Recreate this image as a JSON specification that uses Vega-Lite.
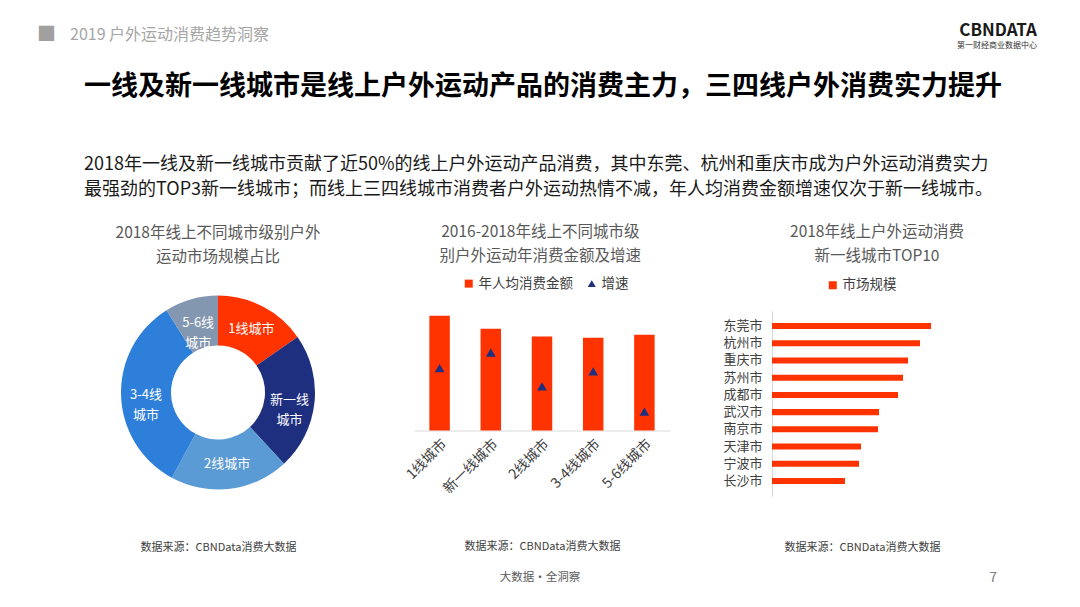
{
  "$schema": "https://vega.github.io/schema/vega-lite/v6.json",
  "background": "white",
  "padding": {"left": 37, "top": 20, "right": 5, "bottom": 5},
  "config": {
    "font": "Noto Sans CJK SC",
    "view": {"stroke": null},
    "axis": {"labelFont": "Noto Sans CJK SC", "titleFont": "Noto Sans CJK SC"},
    "legend": {"labelFont": "Noto Sans CJK SC", "titleFont": "Noto Sans CJK SC"},
    "title": {"font": "Noto Sans CJK SC", "subtitleFont": "Noto Sans CJK SC"},
    "text": {"font": "Noto Sans CJK SC"}
  },
  "datasets": {
    "tiers": [
      {"tier": "1线城市", "share": 15.3, "label": "1线城市"},
      {"tier": "新一线城市", "share": 22.8, "label": "新一线\n城市"},
      {"tier": "2线城市", "share": 19.8, "label": "2线城市"},
      {"tier": "3-4线城市", "share": 33.2, "label": "3-4线\n城市"},
      {"tier": "5-6线城市", "share": 8.9, "label": "5-6线\n城市"}
    ],
    "spend": [
      {"tier": "1线城市", "spend": 1147, "growth": 20.8},
      {"tier": "新一线城市", "spend": 1017, "growth": 26.0},
      {"tier": "2线城市", "spend": 940, "growth": 14.7},
      {"tier": "3-4线城市", "spend": 927, "growth": 19.7},
      {"tier": "5-6线城市", "spend": 957, "growth": 6.3}
    ],
    "cities": [
      {"city": "东莞市", "size": 159},
      {"city": "杭州市", "size": 148},
      {"city": "重庆市", "size": 136},
      {"city": "苏州市", "size": 131},
      {"city": "成都市", "size": 126},
      {"city": "武汉市", "size": 107},
      {"city": "南京市", "size": 106},
      {"city": "天津市", "size": 89},
      {"city": "宁波市", "size": 87},
      {"city": "长沙市", "size": 73}
    ]
  },
  "bounds": "flush",
  "spacing": 260.5,
  "resolve": {"scale": {"color": "independent", "x": "independent", "y": "independent"}},
  "vconcat": [
    {
      "width": 1000,
      "height": 30,
      "data": {"values": [{"square": "■", "header": "2019 户外运动消费趋势洞察", "logo": "CBNDATA", "tagline": "第一财经商业数据中心"}]},
      "layer": [
        {
          "mark": {"type": "text", "align": "left", "baseline": "middle", "fontSize": 19, "color": "#a0a0a0"},
          "encoding": {
            "text": {"field": "square", "type": "nominal"},
            "x": {"datum": 0, "type": "quantitative", "scale": {"domain": [0, 1]}, "axis": null}
          }
        },
        {
          "mark": {"type": "text", "align": "left", "baseline": "middle", "fontSize": 16, "color": "#a6a6a6"},
          "encoding": {
            "text": {"field": "header", "type": "nominal"},
            "x": {"datum": 0.033, "type": "quantitative"}
          }
        },
        {
          "mark": {"type": "text", "align": "right", "baseline": "middle", "fontSize": 17, "fontWeight": "bold", "color": "#1a1a1a", "dy": -4},
          "encoding": {
            "text": {"field": "logo", "type": "nominal"},
            "x": {"datum": 1, "type": "quantitative"}
          }
        },
        {
          "mark": {"type": "text", "align": "right", "baseline": "middle", "fontSize": 8, "color": "#333333", "dy": 11},
          "encoding": {
            "text": {"field": "tagline", "type": "nominal"},
            "x": {"datum": 1, "type": "quantitative"}
          }
        }
      ]
    },
    {
      "title": {
        "text": "一线及新一线城市是线上户外运动产品的消费主力，三四线户外消费实力提升",
        "subtitle": [
          "2018年一线及新一线城市贡献了近50%的线上户外运动产品消费，其中东莞、杭州和重庆市成为户外运动消费实力",
          "最强劲的TOP3新一线城市；而线上三四线城市消费者户外运动热情不减，年人均消费金额增速仅次于新一线城市。"
        ],
        "anchor": "start",
        "dx": 47,
        "fontSize": 27,
        "fontWeight": "bold",
        "color": "#000000",
        "subtitleFontSize": 18,
        "subtitleColor": "#1a1a1a",
        "subtitlePadding": 55,
        "subtitleLineHeight": 25,
        "offset": 25
      },
      "bounds": "flush",
      "spacing": 15,
      "resolve": {"scale": {"color": "independent", "x": "independent", "y": "independent"}},
      "hconcat": [
        {
          "width": 362,
          "height": 164,
          "title": {"text": ["2018年线上不同城市级别户外", "运动市场规模占比"], "frame": "group", "anchor": "middle", "fontSize": 15.5, "fontWeight": "normal", "color": "#595959", "lineHeight": 24, "offset": 30},
          "data": {"name": "tiers"},
          "transform": [{"window": [{"op": "row_number", "as": "idx"}]}],
          "layer": [
            {
              "mark": {"type": "arc", "outerRadius": 97, "innerRadius": 47},
              "encoding": {
                "theta": {"field": "share", "type": "quantitative", "stack": true},
                "order": {"field": "idx", "type": "quantitative"},
                "color": {
                  "field": "tier",
                  "type": "nominal",
                  "scale": {
                    "domain": ["1线城市", "新一线城市", "2线城市", "3-4线城市", "5-6线城市"],
                    "range": ["#FF3300", "#1F2F7F", "#5B9BD5", "#2E7FD9", "#8497B0"]
                  },
                  "legend": null
                }
              }
            },
            {
              "mark": {"type": "text", "radius": 72, "color": "white", "fontSize": 13, "lineBreak": "\n", "lineHeight": 20},
              "encoding": {
                "theta": {"field": "share", "type": "quantitative", "stack": true},
                "order": {"field": "idx", "type": "quantitative"},
                "text": {"field": "label", "type": "nominal"}
              }
            },
            {
              "mark": {"type": "rule", "opacity": 0},
              "encoding": {
                "x": {
                  "datum": 0,
                  "type": "quantitative",
                  "axis": {"title": "数据来源：CBNData消费大数据", "domain": false, "labels": false, "ticks": false, "grid": false, "titleFontSize": 11, "titleFontWeight": "normal", "titleColor": "#404040", "titlePadding": 67}
                }
              }
            }
          ]
        },
        {
          "width": 342.7,
          "height": 120,
          "title": {"text": ["2016-2018年线上不同城市级", "别户外运动年消费金额及增速"], "frame": "group", "anchor": "middle", "dx": -45, "fontSize": 15.5, "fontWeight": "normal", "color": "#595959", "lineHeight": 24, "offset": 12},
          "data": {"name": "spend"},
          "encoding": {
            "x": {
              "field": "tier",
              "type": "nominal",
              "sort": null,
              "scale": {"range": [0, 256], "paddingInner": 0.6, "paddingOuter": 0.3},
              "axis": {"title": "数据来源：CBNData消费大数据", "titleFontSize": 11, "titleFontWeight": "normal", "titleColor": "#404040", "titlePadding": 45, "labelAngle": -45, "labelFontSize": 14, "labelColor": "#404040", "domainColor": "#d9d9d9", "ticks": false, "labelPadding": 6}
            }
          },
          "layer": [
            {
              "mark": {"type": "bar"},
              "encoding": {
                "y": {"field": "spend", "type": "quantitative", "scale": {"domain": [0, 1200]}, "axis": null},
                "color": {
                  "datum": "年人均消费金额",
                  "type": "nominal",
                  "scale": {"domain": ["年人均消费金额", "增速"], "range": ["#FF3300", "#1F2F7F"]},
                  "legend": {
                    "orient": "none",
                    "legendX": 48,
                    "legendY": -34,
                    "direction": "horizontal",
                    "title": null,
                    "labelFontSize": 13.5,
                    "labelColor": "#404040",
                    "symbolSize": 64,
                    "labelOffset": 3,
                    "columnPadding": 12,
                    "encode": {"symbols": {"update": {"shape": {"signal": "datum.value === '增速' ? 'triangle-up' : 'square'"}, "strokeWidth": {"value": 0}}}}
                  }
                }
              }
            },
            {
              "mark": {"type": "point", "shape": "triangle-up", "filled": true, "size": 95, "opacity": 1},
              "encoding": {
                "y": {"field": "growth", "type": "quantitative", "scale": {"domain": [0, 40]}, "axis": null},
                "color": {"datum": "增速", "type": "nominal"}
              }
            }
          ],
          "resolve": {"scale": {"y": "independent"}}
        },
        {
          "width": 210,
          "height": 186,
          "title": {"text": ["2018年线上户外运动消费", "新一线城市TOP10"], "frame": "group", "anchor": "middle", "fontSize": 15.5, "fontWeight": "normal", "color": "#595959", "lineHeight": 24, "offset": 14},
          "data": {"name": "cities"},
          "mark": {"type": "bar"},
          "encoding": {
            "y": {
              "field": "city",
              "type": "nominal",
              "sort": null,
              "scale": {"paddingInner": 0.65, "paddingOuter": 0.725},
              "axis": {"title": null, "ticks": false, "labelFontSize": 13, "labelColor": "#404040", "domainColor": "#d9d9d9", "labelPadding": 10}
            },
            "x": {
              "field": "size",
              "type": "quantitative",
              "scale": {"domain": [0, 210]},
              "axis": {"title": "数据来源：CBNData消费大数据", "titleX": 90, "domain": false, "labels": false, "ticks": false, "grid": false, "titleFontSize": 11, "titleFontWeight": "normal", "titleColor": "#404040", "titlePadding": 45}
            },
            "color": {
              "datum": "市场规模",
              "type": "nominal",
              "scale": {"range": ["#FF3300"]},
              "legend": {
                "orient": "none",
                "legendX": 54,
                "legendY": -32,
                "title": null,
                "labelFontSize": 13.5,
                "labelColor": "#404040",
                "symbolType": "square",
                "symbolSize": 64,
                "labelOffset": 3,
                "symbolStrokeWidth": 0
              }
            }
          }
        }
      ]
    },
    {
      "width": 1000,
      "height": 14,
      "data": {"values": [{"slogan": "大数据·全洞察", "page": "7"}]},
      "layer": [
        {
          "mark": {"type": "text", "baseline": "middle", "fontSize": 11.5, "color": "#595959"},
          "encoding": {
            "text": {"field": "slogan", "type": "nominal"},
            "x": {"datum": 0.503, "type": "quantitative", "scale": {"domain": [0, 1]}, "axis": null}
          }
        },
        {
          "mark": {"type": "text", "align": "right", "baseline": "middle", "fontSize": 14, "color": "#7f7f7f"},
          "encoding": {
            "text": {"field": "page", "type": "nominal"},
            "x": {"datum": 0.96, "type": "quantitative"}
          }
        }
      ]
    }
  ]
}
